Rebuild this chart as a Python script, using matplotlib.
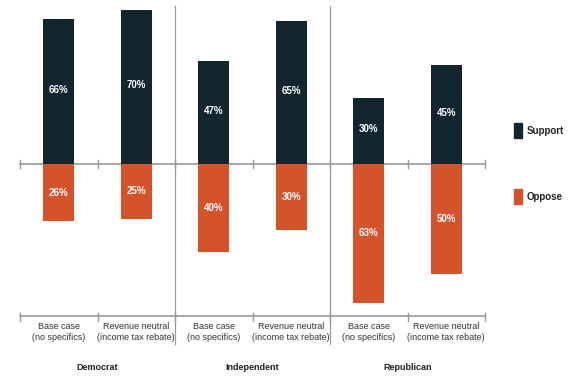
import matplotlib.pyplot as plt
import numpy as np

plt.rcParams['font.family'] = ['Liberation Sans Narrow', 'Liberation Sans', 'DejaVu Sans']

groups = ['Democrat', 'Independent', 'Republican']
cases = ['Base case\n(no specifics)', 'Revenue neutral\n(income tax rebate)']
support = [66, 70, 47, 65, 30, 45]
oppose = [26, 25, 40, 30, 63, 50]

navy = '#132630'
orange = '#d4532b'
grey = '#9a9a9a'

W, H = 575, 377
fig = plt.figure(figsize=(W / 100, H / 100), dpi=100)
# axes placed in pixel terms: x 20..485, y 5.6..316.9
ax = fig.add_axes([20 / W, (H - 316.9) / H, 465 / W, 311.3 / H])

x = np.arange(6) + 0.5
ax.bar(x, support, width=0.4, color=navy, zorder=2)
ax.bar(x, [-v for v in oppose], width=0.4, color=orange, zorder=2)

for xi, s, o in zip(x, support, oppose):
    ax.text(xi, s / 2 + 0.8, f'{s}%', color='white', ha='center', va='center',
            fontsize=7, fontweight='bold', zorder=3)
    ax.text(xi, -o / 2, f'{o}%', color='white', ha='center', va='center',
            fontsize=7, fontweight='bold', zorder=3)

ax.set_xlim(0, 6)
ax.set_ylim(-69.5, 72)
ax.axis('off')

# zero line and bottom axis, both with ticks
for yl in [0, -69.3]:
    ax.plot([0, 6], [yl, yl], color=grey, lw=1.2, clip_on=False, zorder=1)
    for t in range(7):
        ax.plot([t, t], [yl + 1.8, yl - 1.9], color=grey, lw=1,
                clip_on=False, zorder=1)
# group separators
for t in [2, 4]:
    ax.plot([t, t], [72, -82], color=grey, lw=0.9, clip_on=False, zorder=1)

for i, xi in enumerate(x):
    ax.text(xi, -76.5, cases[i % 2], ha='center', va='center', fontsize=6.5,
            color='#333333', linespacing=1.25)
for g, name in enumerate(groups):
    ax.text(2 * g + 1, -92.5, name, ha='center', va='center', fontsize=6.5,
            fontweight='bold', color='#222222')

# legend
fig.patches.append(plt.Rectangle((514 / W, 1 - 138 / H), 8 / W, 15 / H,
                                 transform=fig.transFigure, color=navy))
fig.patches.append(plt.Rectangle((514 / W, 1 - 204 / H), 8 / W, 15 / H,
                                 transform=fig.transFigure, color=orange))
fig.text(527 / W, 1 - 130.5 / H, 'Support', fontsize=7, fontweight='bold',
         color='#222222', va='center')
fig.text(527 / W, 1 - 196.5 / H, 'Oppose', fontsize=7, fontweight='bold',
         color='#222222', va='center')

fig.savefig('out.png', dpi=100)
